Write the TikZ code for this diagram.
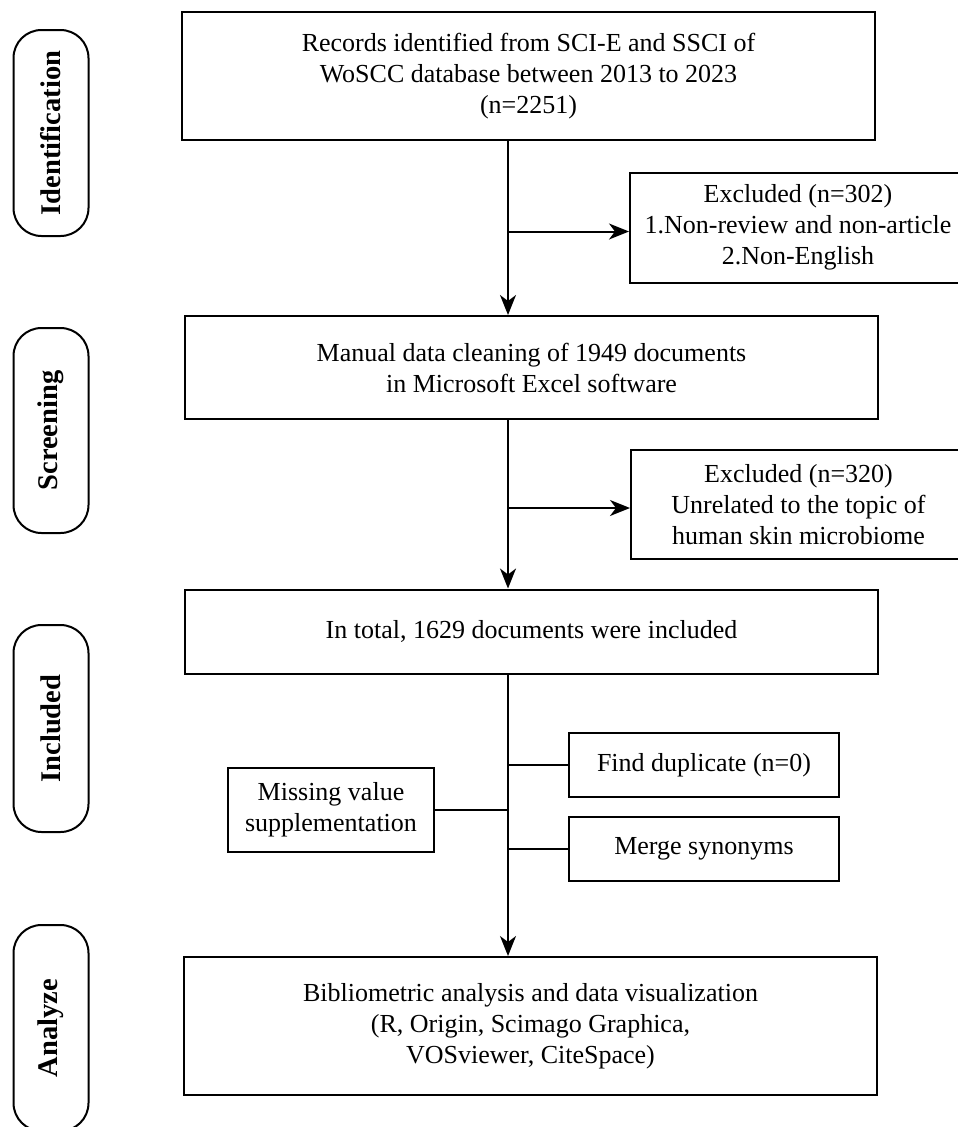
\documentclass[tikz,border=0pt]{standalone}
\usepackage{fontspec}
\setmainfont{Liberation Serif}
\usetikzlibrary{arrows.meta}
\begin{document}
\begin{tikzpicture}[x=1pt,y=-1pt,
  box/.style={draw, line width=2pt, rectangle, align=center, inner sep=0pt,
    font=\fontsize{26}{31}\selectfont},
  stage/.style={draw, line width=2pt, rounded corners=28pt, rotate=90, inner sep=0pt,
    minimum height=75pt, font=\fontsize{28.5}{34}\selectfont\bfseries},
  conn/.style={line width=2pt},
  arr/.style={line width=2pt, -{Stealth[length=20pt,width=16pt,inset=6pt]}}]
\useasboundingbox (0,0) rectangle (958,1127);
\clip (0,0) rectangle (958,1127);
% stage labels
\node[stage, minimum width=206pt] (s1) at (51,133) {Identification};
\node[stage, minimum width=205pt] (s2) at (51,430.5) {Screening};
\node[stage, minimum width=207pt] (s3) at (51,728.5) {Included};
\node[stage, minimum width=206pt] (s4) at (51,1028) {Analyze};
% main boxes
\node[box, minimum width=693pt, minimum height=128pt] (b1) at (528.5,76)
  {Records identified from SCI-E and SSCI of\\WoSCC database between 2013 to 2023\\(n=2251)};
\node[box, minimum width=336pt, minimum height=110pt] (e1) at (798,227.5)
  {Excluded (n=302)\\1.Non-review and non-article\\2.Non-English};
\node[box, minimum width=693pt, minimum height=103pt] (b2) at (531.5,367.5)
  {Manual data cleaning of 1949 documents\\in Microsoft Excel software};
\node[box, minimum width=335pt, minimum height=109pt] (e2) at (798.5,504.5)
  {Excluded (n=320)\\Unrelated to the topic of\\human skin microbiome};
\node[box, minimum width=693pt, minimum height=84pt] (b3) at (531.5,631.5)
  {In total, 1629 documents were included};
\node[box, minimum width=270pt, minimum height=63.5pt] (d1) at (704,764.8)
  {Find duplicate (n=0)};
\node[box, minimum width=270pt, minimum height=63.5pt] (d2) at (704,848.8)
  {Merge synonyms};
\node[box, minimum width=205.5pt, minimum height=84pt] (m1) at (331,810)
  {Missing value\\supplementation};
\node[box, minimum width=693pt, minimum height=138pt] (b4) at (530.5,1026)
  {Bibliometric analysis and data visualization\\(R, Origin, Scimago Graphica,\\VOSviewer, CiteSpace)};
% connectors
\coordinate (vx) at (508,0);
\draw[arr] (b1.south -| vx) -- (b2.north -| vx);
\draw[arr] ([yshift=-4pt]vx |- e1.west) -- ([yshift=-4pt]e1.west);
\draw[arr] (b2.south -| vx) -- (b3.north -| vx);
\draw[arr] ([yshift=-3.5pt]vx |- e2.west) -- ([yshift=-3.5pt]e2.west);
\draw[arr] (b3.south -| vx) -- (b4.north -| vx);
\draw[conn] (vx |- d1.west) -- (d1.west);
\draw[conn] (vx |- d2.west) -- (d2.west);
\draw[conn] (m1.east) -- (vx |- m1.east);
\end{tikzpicture}
\end{document}
